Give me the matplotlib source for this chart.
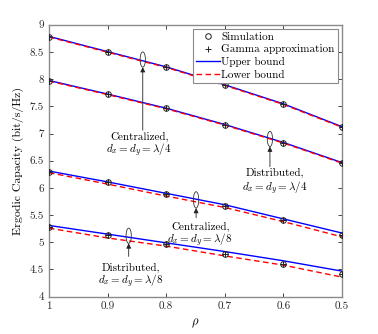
import matplotlib
matplotlib.use("Agg")
import matplotlib.pyplot as plt
from matplotlib.patches import Ellipse
from matplotlib.lines import Line2D

plt.rcParams['font.family'] = ['cmr10', 'DejaVu Serif']
plt.rcParams['mathtext.fontset'] = 'cm'
plt.rcParams['axes.formatter.use_mathtext'] = True

rho = [1.0, 0.9, 0.8, 0.7, 0.6, 0.5]

# Centralized, lambda/4
cen4_sim = [8.78, 8.50, 8.22, 7.89, 7.54, 7.12]
cen4_up = [8.785, 8.505, 8.225, 7.895, 7.545, 7.125]
cen4_lo = [8.775, 8.495, 8.215, 7.885, 7.535, 7.115]
# Distributed, lambda/4
dis4_sim = [7.97, 7.72, 7.46, 7.16, 6.83, 6.46]
dis4_up = [7.975, 7.725, 7.465, 7.165, 6.835, 6.465]
dis4_lo = [7.965, 7.715, 7.455, 7.155, 6.825, 6.455]
# Centralized, lambda/8
cen8_sim = [6.30, 6.10, 5.88, 5.67, 5.41, 5.13]
cen8_up = [6.31, 6.11, 5.90, 5.69, 5.43, 5.17]
cen8_lo = [6.28, 6.07, 5.85, 5.64, 5.38, 5.10]
# Distributed, lambda/8
dis8_sim = [5.28, 5.13, 4.97, 4.78, 4.61, 4.41]
dis8_up = [5.31, 5.15, 4.99, 4.83, 4.66, 4.47]
dis8_lo = [5.26, 5.08, 4.93, 4.75, 4.58, 4.36]

yticks = [4, 4.5, 5, 5.5, 6, 6.5, 7, 7.5, 8, 8.5, 9]
xticks = [1, 0.9, 0.8, 0.7, 0.6, 0.5]

fig = plt.figure(figsize=(3.78, 3.34), dpi=100)
ax = fig.add_axes([0.1296, 0.1117, 0.7752, 0.8143])

for up, lo, sim in [(cen4_up, cen4_lo, cen4_sim), (dis4_up, dis4_lo, dis4_sim),
                    (cen8_up, cen8_lo, cen8_sim), (dis8_up, dis8_lo, dis8_sim)]:
    ax.plot(rho, up, color='#0000ff', lw=1.0, zorder=3)
    ax.plot(rho, lo, color='#ff0000', lw=1.0, ls=(0, (4, 2.5)), zorder=3)
    ax.plot(rho, sim, ls='none', marker='o', ms=4, mfc='none', mec='#222222', mew=0.7, zorder=4)
    ax.plot(rho, sim, ls='none', marker='+', ms=4.5, color='#222222', mew=0.7, zorder=4)

ax.set_xlim(1, 0.5)
ax.set_ylim(4, 9)
ax.set_xticks(xticks)
ax.set_xticklabels([f"{v:g}" for v in xticks])
ax.set_yticks(yticks)
ax.set_yticklabels([f"{v:g}" for v in yticks])
ax.tick_params(direction='in', top=True, right=True, labelsize=8, length=3, width=0.6, colors='#262626')
for s in ax.spines.values():
    s.set_color('#8a8a8a')
    s.set_linewidth(1.0)

ax.set_xlabel(r'$\rho$', fontsize=9)
ax.set_ylabel('Ergodic Capacity (bit/s/Hz)', fontsize=8.5)

# annotations
annots = [
    # ellipse center x, y, height, arrow tip, arrow tail, text x, text y1, text y2, label1, label2
    (0.840, 8.36, 0.28, 8.22, 7.06, 0.846, 6.94, 6.70, 'Centralized,', r'$d_x = d_y = \lambda/4$'),
    (0.623, 6.90, 0.28, 6.76, 6.39, 0.614, 6.27, 6.00, 'Distributed,', r'$d_x = d_y = \lambda/4$'),
    (0.749, 5.78, 0.30, 5.63, 5.45, 0.742, 5.29, 5.04, 'Centralized,', r'$d_x = d_y = \lambda/8$'),
    (0.864, 5.12, 0.28, 4.98, 4.74, 0.860, 4.53, 4.28, 'Distributed,', r'$d_x = d_y = \lambda/8$'),
]
for ex, ey, eh, tip, tail, tx, ty1, ty2, l1, l2 in annots:
    ax.add_patch(Ellipse((ex, ey), 0.009, eh, fill=False, ec='#333333', lw=0.6, zorder=5))
    ax.annotate('', xy=(ex, tip), xytext=(ex, tail),
                arrowprops=dict(arrowstyle='-|>', color='#222222', lw=0.6,
                                mutation_scale=7, shrinkA=0, shrinkB=0), zorder=5)
    ax.text(tx, ty1, l1, ha='center', va='center', fontsize=8)
    ax.text(tx, ty2, l2, ha='center', va='center', fontsize=8)

handles = [
    Line2D([], [], ls='none', marker='o', ms=4, mfc='none', mec='#222222', mew=0.7),
    Line2D([], [], ls='none', marker='+', ms=4.5, color='#222222', mew=0.7),
    Line2D([], [], color='#0000ff', lw=1.0),
    Line2D([], [], color='#ff0000', lw=1.0, ls=(0, (4, 2.5))),
]
labels = ['Simulation', 'Gamma approximation', 'Upper bound', 'Lower bound']
leg = ax.legend(handles, labels, loc='upper right', fontsize=8, frameon=True, fancybox=False,
                edgecolor='#8a8a8a', framealpha=1, borderaxespad=0.35, handlelength=2.2,
                handletextpad=0.1, borderpad=0.3, labelspacing=0.25)
leg.get_frame().set_linewidth(0.8)

fig.savefig('out.png', dpi=100)
